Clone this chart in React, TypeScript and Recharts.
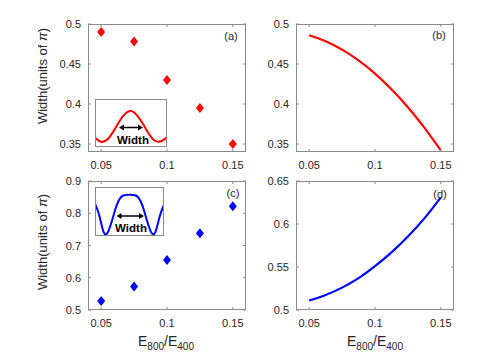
import React from 'react';
import { ScatterChart, Scatter, LineChart, Line, XAxis, YAxis } from 'recharts';

// ratio E800/E400 for the measured points
const E_RATIO = [0.05, 0.075, 0.1, 0.125, 0.15];
const WIDTH_RED = [0.49, 0.478, 0.43, 0.395, 0.35];
const WIDTH_BLUE = [0.528, 0.573, 0.655, 0.738, 0.822];

// model curves (b) and (d)
const E_FINE = [0.05, 0.0625, 0.075, 0.0875, 0.1, 0.1125, 0.125, 0.1375, 0.15];
const CURVE_RED = [0.486, 0.4785, 0.468, 0.4545, 0.438, 0.4185, 0.396, 0.3705, 0.342];
const CURVE_BLUE = [0.511, 0.5175, 0.526, 0.537, 0.551, 0.567, 0.5855, 0.6065, 0.631];

// inset sketches (normalised)
const INSET_RED_X = [0, 0.0833, 0.1667, 0.25, 0.3333, 0.4167, 0.5, 0.5833, 0.6667, 0.75, 0.8333, 0.9167, 1];
const INSET_RED_Y = [0.19, 0.11, 0.15, 0.31, 0.52, 0.69, 0.75, 0.66, 0.48, 0.27, 0.13, 0.12, 0.2];
const INSET_BLUE_X = [0, 0.0625, 0.125, 0.1875, 0.25, 0.3125, 0.375, 0.4375, 0.5, 0.5625, 0.625, 0.6875, 0.75, 0.8125, 0.875, 0.9375, 1];
const INSET_BLUE_Y = [0.66, 0.42, 0.08, 0.08, 0.33, 0.62, 0.79, 0.835, 0.84, 0.835, 0.79, 0.62, 0.33, 0.08, 0.08, 0.4, 0.64];

const X_DOMAIN = [0.04, 0.16];
const X_TICKS = [0.05, 0.1, 0.15];
const Y_TICKS_A = [0.35, 0.4, 0.45, 0.5];
const Y_TICKS_C = [0.5, 0.6, 0.7, 0.8, 0.9];
const Y_TICKS_D = [0.5, 0.55, 0.6, 0.65];
const INSET_X_TICKS = [0.155, 0.315, 0.475, 0.635, 0.795, 0.955];
const INSET_Y_TICKS = [0.12, 0.455, 0.805];

const AXIS = '#8a8a8a';
const TXT = '#262626';
const FONT = '"Liberation Sans", Arial, Helvetica, sans-serif';
const RED = '#ff0000';
const BLUE = '#0000ff';

const pts = (xs: number[], ys: number[]) => xs.map((x, i) => ({ x, y: ys[i] }));

const XTick = (p: any) => {
  const { x, y, payload, plotH } = p;
  return (
    <g>
      <line x1={x} x2={x} y1={y} y2={y - 3} stroke={AXIS} />
      <line x1={x} x2={x} y1={y - plotH} y2={y - plotH + 3} stroke={AXIS} />
      <text x={x} y={y + 17} textAnchor="middle" fontSize={11} fill={TXT} fontFamily={FONT}>
        {String(payload.value)}
      </text>
    </g>
  );
};

const YTick = (p: any) => {
  const { x, y, payload, plotW } = p;
  return (
    <g>
      <line x1={x} x2={x + 3} y1={y} y2={y} stroke={AXIS} />
      <line x1={x + plotW} x2={x + plotW - 3} y1={y} y2={y} stroke={AXIS} />
      <text x={x - 7} y={y + 4} textAnchor="end" fontSize={11} fill={TXT} fontFamily={FONT}>
        {String(payload.value)}
      </text>
    </g>
  );
};

const Diamond = (p: any) => {
  const { cx, cy, fill } = p;
  return <polygon points={`${cx},${cy - 5} ${cx + 4},${cy} ${cx},${cy + 5} ${cx - 4},${cy}`} fill={fill} />;
};

const Frame = ({ left, top, w, h }: any) => (
  <div
    style={{
      position: 'absolute', left, top, width: w, height: h,
      border: `1px solid ${AXIS}`, boxSizing: 'border-box', pointerEvents: 'none',
    }}
  />
);

const axes = (g: any, yDomain: number[], yTicks: number[]) => [
  <XAxis
    key="x" type="number" dataKey="x" domain={X_DOMAIN} ticks={X_TICKS} allowDataOverflow interval={0}
    height={25} axisLine={false} tickLine={false} tickSize={0} tickMargin={0}
    tick={(p: any) => <XTick {...p} plotH={g.h} />}
  />,
  <YAxis
    key="y" type="number" dataKey="y" domain={yDomain} ticks={yTicks} allowDataOverflow interval={0}
    width={50} axisLine={false} tickLine={false} tickSize={0} tickMargin={0}
    tick={(p: any) => <YTick {...p} plotW={g.w} />}
  />,
];

const GA = { left: 88, top: 24, w: 158, h: 128 };
const GB = { left: 296, top: 24, w: 158, h: 128 };
const GC = { left: 88, top: 181, w: 158, h: 129 };
const GD = { left: 296, top: 181, w: 158, h: 129 };

const chartBox = (g: any) => ({ position: 'absolute' as const, left: g.left - 50, top: g.top - 10 });
const MARGIN = { top: 10, right: 10, left: 0, bottom: 0 };

function ScatterPanel({ g, yDomain, yTicks, data, color }: any) {
  return (
    <div style={chartBox(g)}>
      <ScatterChart width={g.w + 60} height={g.h + 35} margin={MARGIN}>
        {axes(g, yDomain, yTicks)}
        <Scatter data={data} fill={color} shape={(p: any) => <Diamond {...p} fill={color} />} isAnimationActive={false} />
      </ScatterChart>
    </div>
  );
}

function LinePanel({ g, yDomain, yTicks, data, color }: any) {
  return (
    <div style={chartBox(g)}>
      <LineChart width={g.w + 60} height={g.h + 35} margin={MARGIN} data={data}>
        {axes(g, yDomain, yTicks)}
        <Line type="natural" dataKey="y" stroke={color} strokeWidth={2.2} dot={false} isAnimationActive={false} />
      </LineChart>
    </div>
  );
}

function Inset({ box, data, color, yTicks, arrow, label }: any) {
  return (
    <div style={{ position: 'absolute', left: box.left, top: box.top, width: box.w, height: box.h, background: '#fff' }}>
      <LineChart width={box.w} height={box.h} margin={{ top: 0, right: 0, left: 0, bottom: 0 }} data={data}>
        <XAxis
          type="number" dataKey="x" domain={[0, 1]} ticks={INSET_X_TICKS} interval={0} height={0}
          axisLine={false} tickLine={false} tickSize={0} tickMargin={0}
          tick={(p: any) => (
            <g>
              <line x1={p.x} x2={p.x} y1={box.h} y2={box.h - 2} stroke={AXIS} />
              <line x1={p.x} x2={p.x} y1={0} y2={2} stroke={AXIS} />
            </g>
          )}
        />
        <YAxis
          type="number" domain={[0, 1]} ticks={yTicks} interval={0} width={0}
          axisLine={false} tickLine={false} tickSize={0} tickMargin={0}
          tick={(p: any) => (
            <g>
              <line x1={0} x2={2} y1={p.y} y2={p.y} stroke={AXIS} />
              <line x1={box.w} x2={box.w - 2} y1={p.y} y2={p.y} stroke={AXIS} />
            </g>
          )}
        />
        <Line type="natural" dataKey="y" stroke={color} strokeWidth={2} dot={false} isAnimationActive={false} />
      </LineChart>
      <svg width={box.w} height={box.h} style={{ position: 'absolute', left: 0, top: 0, pointerEvents: 'none' }}>
        <line x1={arrow.x1 + 4} x2={arrow.x2 - 4} y1={arrow.y} y2={arrow.y} stroke="#000" strokeWidth={1.5} />
        <polygon points={`${arrow.x1},${arrow.y} ${arrow.x1 + 5},${arrow.y - 3} ${arrow.x1 + 5},${arrow.y + 3}`} fill="#000" />
        <polygon points={`${arrow.x2},${arrow.y} ${arrow.x2 - 5},${arrow.y - 3} ${arrow.x2 - 5},${arrow.y + 3}`} fill="#000" />
        <text x={label.x} y={label.y} textAnchor="middle" fontSize={11.5} fontWeight="bold" fill="#000" fontFamily={FONT}>
          Width
        </text>
      </svg>
      <Frame left={0} top={0} w={box.w} h={box.h} />
    </div>
  );
}

const YLabel = ({ x, y }: any) => (
  <text transform={`rotate(-90 ${x} ${y})`} x={x} y={y} textAnchor="middle" fontSize={13} fill={TXT} fontFamily={FONT}>
    Width(units of <tspan fontStyle="italic">π</tspan>)
  </text>
);

const XLabel = ({ x, y }: any) => (
  <text x={x} y={y} textAnchor="middle" fontSize={14} fill={TXT} fontFamily={FONT}>
    E<tspan fontSize={10} dy={4}>800</tspan>
    <tspan dy={-4}>/E</tspan>
    <tspan fontSize={10} dy={4}>400</tspan>
  </text>
);

export default function App() {
  return (
    <div style={{ position: 'absolute', left: 0, top: 0, width: 491, height: 356, background: '#fff', overflow: 'hidden' }}>
      <ScatterPanel g={GA} yDomain={[0.34, 0.5]} yTicks={Y_TICKS_A} data={pts(E_RATIO, WIDTH_RED)} color={RED} />
      <LinePanel g={GB} yDomain={[0.34, 0.5]} yTicks={Y_TICKS_A} data={pts(E_FINE, CURVE_RED)} color={RED} />
      <ScatterPanel g={GC} yDomain={[0.5, 0.9]} yTicks={Y_TICKS_C} data={pts(E_RATIO, WIDTH_BLUE)} color={BLUE} />
      <LinePanel g={GD} yDomain={[0.5, 0.65]} yTicks={Y_TICKS_D} data={pts(E_FINE, CURVE_BLUE)} color={BLUE} />
      <Frame {...GA} />
      <Frame {...GB} />
      <Frame {...GC} />
      <Frame {...GD} />
      <Inset
        box={{ left: 95, top: 99, w: 72, h: 48 }}
        data={pts(INSET_RED_X, INSET_RED_Y)} color={RED} yTicks={INSET_Y_TICKS}
        arrow={{ x1: 24, x2: 48, y: 28.5 }} label={{ x: 38, y: 44.5 }}
      />
      <Inset
        box={{ left: 95, top: 187, w: 69, h: 49 }}
        data={pts(INSET_BLUE_X, INSET_BLUE_Y)} color={BLUE} yTicks={[]}
        arrow={{ x1: 21.5, x2: 49, y: 29 }} label={{ x: 36, y: 45 }}
      />
      <svg width={491} height={356} style={{ position: 'absolute', left: 0, top: 0, pointerEvents: 'none' }}>
        <YLabel x={47} y={76} />
        <YLabel x={47} y={242} />
        <XLabel x={166} y={346} />
        <XLabel x={375} y={346} />
        <g fontSize={11} fill={TXT} fontFamily={FONT} textAnchor="middle">
          <text x={231} y={40}>(a)</text>
          <text x={439} y={39}>(b)</text>
          <text x={233} y={197}>(c)</text>
          <text x={440} y={198}>(d)</text>
        </g>
      </svg>
    </div>
  );
}
